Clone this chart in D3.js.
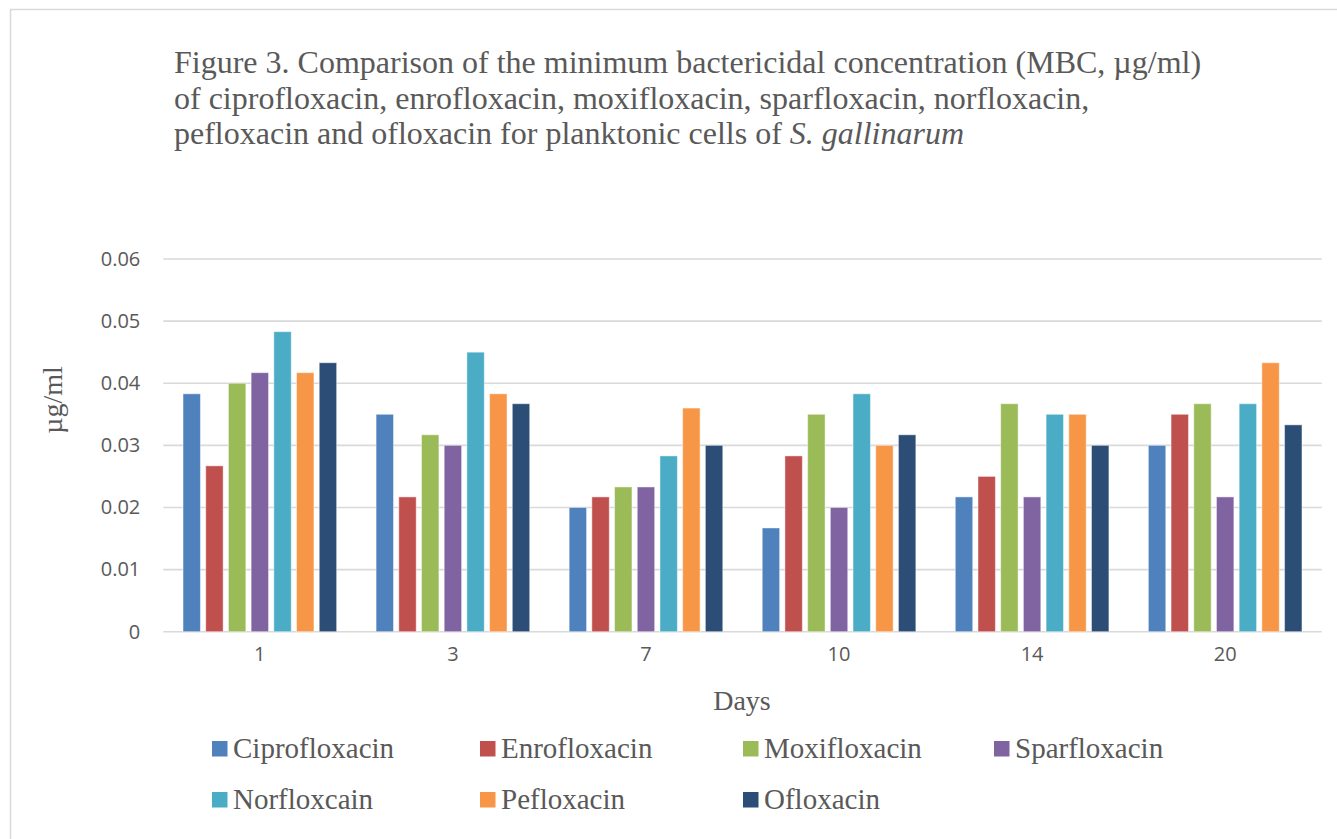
<!DOCTYPE html>
<html>
<head>
<meta charset="utf-8">
<script src="https://cdn.jsdelivr.net/npm/d3@7/dist/d3.min.js"></script>
<style>
    body { margin: 0; background: #fff; }
    svg { display: block; }
</style>
</head>
<body>
<svg id="chart"></svg>
<script>
// days on the x axis
const days = ["1", "3", "7", "10", "14", "20"];
const drugs = ["Ciprofloxacin", "Enrofloxacin", "Moxifloxacin", "Sparfloxacin", "Norfloxcain", "Pefloxacin", "Ofloxacin"];

// MBC values (µg/ml), one array per drug, in day order
const ciprofloxacin = [0.0383, 0.035, 0.02, 0.0167, 0.0217, 0.03];
const enrofloxacin = [0.0267, 0.0217, 0.0217, 0.0283, 0.025, 0.035];
const moxifloxacin = [0.04, 0.0317, 0.0233, 0.035, 0.0367, 0.0367];
const sparfloxacin = [0.0417, 0.03, 0.0233, 0.02, 0.0217, 0.0217];
const norfloxacin = [0.0483, 0.045, 0.0283, 0.0383, 0.035, 0.0367];
const pefloxacin = [0.0417, 0.0383, 0.036, 0.03, 0.035, 0.0433];
const ofloxacin = [0.0433, 0.0367, 0.03, 0.0317, 0.03, 0.0333];

const yTicks = [0, 0.01, 0.02, 0.03, 0.04, 0.05, 0.06];
const yTickLabels = ["0", "0.01", "0.02", "0.03", "0.04", "0.05", "0.06"];

const colors = ["#4F81BD", "#C0504D", "#9BBB59", "#8064A2", "#4BACC6", "#F79646", "#2C4D75"];

function init() {
    let width = 1337,
        height = 839,
        textColor = "#595959",
        gridColor = "#d9d9d9",
        serif = "'Liberation Serif', 'Times New Roman', serif",
        sans = "'Open Sans', 'Noto Sans', sans-serif";

    let svg = d3.select("#chart").attr("width", width).attr("height", height);

    let series = [ciprofloxacin, enrofloxacin, moxifloxacin, sparfloxacin, norfloxacin, pefloxacin, ofloxacin];
    let rows = days.map((d, i) => ({ day: d, values: drugs.map((name, j) => ({ name: name, idx: j, value: series[j][i] })) }));

    // outer frame
    svg.append("rect")
        .attr("x", 10.5).attr("y", 9.5)
        .attr("width", width + 10).attr("height", height + 10)
        .attr("fill", "none")
        .attr("stroke", gridColor)
        .attr("stroke-width", 1.5);

    // title
    let title = svg.append("text")
        .attr("fill", textColor)
        .attr("font-family", serif)
        .attr("font-size", "32px");
    title.append("tspan").attr("x", 174).attr("y", 73)
        .text("Figure 3. Comparison of the minimum bactericidal concentration (MBC, µg/ml)");
    title.append("tspan").attr("x", 174).attr("y", 108.5)
        .text("of ciprofloxacin, enrofloxacin, moxifloxacin, sparfloxacin, norfloxacin,");
    let l3 = title.append("tspan").attr("x", 174).attr("y", 144)
        .text("pefloxacin and ofloxacin for planktonic cells of ");
    title.append("tspan").attr("font-style", "italic").text("S. gallinarum");

    let x0 = d3.scaleBand().domain(days).range([163.3, 1321.7]).padding(0);
    let x1 = d3.scaleBand().domain(drugs).range([0, x0.bandwidth()])
        .paddingInner(0.233).paddingOuter(0.869);
    let y = d3.scaleLinear().domain([0, 0.06]).range([631.7, 259]);

    // gridlines
    svg.append("g")
        .selectAll("line")
        .data(yTicks)
        .enter()
        .append("line")
        .attr("x1", 163.3).attr("x2", 1321.7)
        .attr("y1", d => y(d)).attr("y2", d => y(d))
        .attr("stroke", gridColor)
        .attr("stroke-width", 1.6);

    // y axis labels
    let yAxis = svg.append("g")
        .attr("transform", "translate(163.3,0)")
        .call(d3.axisLeft(y).tickValues(yTicks).tickSize(0).tickPadding(23)
            .tickFormat((d, i) => yTickLabels[i]));
    yAxis.select(".domain").remove();
    yAxis.selectAll("text")
        .attr("fill", textColor)
        .attr("font-family", sans)
        .attr("font-size", "20px");

    // x axis labels
    let xAxis = svg.append("g")
        .attr("transform", "translate(0,631.7)")
        .call(d3.axisBottom(x0).tickSize(0).tickPadding(15));
    xAxis.select(".domain").remove();
    xAxis.selectAll("text")
        .attr("fill", textColor)
        .attr("font-family", sans)
        .attr("font-size", "20px");

    // bars
    let groups = svg.selectAll("g.day")
        .data(rows)
        .enter()
        .append("g")
        .attr("class", "day")
        .attr("transform", d => `translate(${x0(d.day)},0)`);

    groups.selectAll("rect")
        .data(d => d.values)
        .enter()
        .append("rect")
        .attr("x", d => x1(d.name))
        .attr("y", d => y(d.value))
        .attr("width", x1.bandwidth())
        .attr("height", d => y(0) - y(d.value))
        .attr("fill", d => colors[d.idx])
        .attr("stroke", "#ffffff")
        .attr("stroke-opacity", 0.45)
        .attr("stroke-width", 1);

    // axis titles
    svg.append("text")
        .attr("x", 742).attr("y", 709.5)
        .attr("text-anchor", "middle")
        .attr("fill", textColor)
        .attr("font-family", serif)
        .attr("font-size", "28px")
        .text("Days");

    svg.append("text")
        .attr("transform", "translate(61.5,400) rotate(-90)")
        .attr("text-anchor", "middle")
        .attr("fill", textColor)
        .attr("font-family", serif)
        .attr("font-size", "28px")
        .text("µg/ml");

    // legend
    let legendCols = [212, 480, 743, 994];
    let legend = svg.selectAll("g.legend")
        .data(drugs)
        .enter()
        .append("g")
        .attr("class", "legend")
        .attr("transform", (d, i) => `translate(${legendCols[i % 4]}, ${i < 4 ? 757.5 : 808.5})`);

    legend.append("rect")
        .attr("x", 0).attr("y", -16.5)
        .attr("width", 15.5).attr("height", 15.5)
        .attr("fill", (d, i) => colors[i]);

    legend.append("text")
        .attr("x", 21)
        .attr("fill", textColor)
        .attr("font-family", serif)
        .attr("font-size", "29px")
        .text(d => d);
}

onload = function () {
    init();
}
</script>
</body>
</html>
